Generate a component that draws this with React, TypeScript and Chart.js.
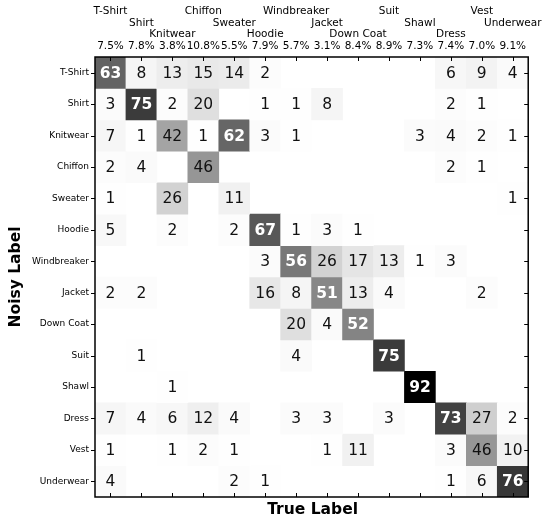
import React, { useEffect, useRef } from "react";
import { Chart, registerables } from "chart.js";

Chart.register(...registerables);

const categories = [
  "T-Shirt", "Shirt", "Knitwear", "Chiffon", "Sweater", "Hoodie", "Windbreaker",
  "Jacket", "Down Coat", "Suit", "Shawl", "Dress", "Vest", "Underwear",
];

const percentages = [
  "7.5%", "7.8%", "3.8%", "10.8%", "5.5%", "7.9%", "5.7%",
  "3.1%", "8.4%", "8.9%", "7.3%", "7.4%", "7.0%", "9.1%",
];

const rowTShirt = [63, 8, 13, 15, 14, 2, 0, 0, 0, 0, 0, 6, 9, 4];
const rowShirt = [3, 75, 2, 20, 0, 1, 1, 8, 0, 0, 0, 2, 1, 0];
const rowKnitwear = [7, 1, 42, 1, 62, 3, 1, 0, 0, 0, 3, 4, 2, 1];
const rowChiffon = [2, 4, 0, 46, 0, 0, 0, 0, 0, 0, 0, 2, 1, 0];
const rowSweater = [1, 0, 26, 0, 11, 0, 0, 0, 0, 0, 0, 0, 0, 1];
const rowHoodie = [5, 0, 2, 0, 2, 67, 1, 3, 1, 0, 0, 0, 0, 0];
const rowWindbreaker = [0, 0, 0, 0, 0, 3, 56, 26, 17, 13, 1, 3, 0, 0];
const rowJacket = [2, 2, 0, 0, 0, 16, 8, 51, 13, 4, 0, 0, 2, 0];
const rowDownCoat = [0, 0, 0, 0, 0, 0, 20, 4, 52, 0, 0, 0, 0, 0];
const rowSuit = [0, 1, 0, 0, 0, 0, 4, 0, 0, 75, 0, 0, 0, 0];
const rowShawl = [0, 0, 1, 0, 0, 0, 0, 0, 0, 0, 92, 0, 0, 0];
const rowDress = [7, 4, 6, 12, 4, 0, 3, 3, 0, 3, 0, 73, 27, 2];
const rowVest = [1, 0, 1, 2, 1, 0, 0, 1, 11, 0, 0, 3, 46, 10];
const rowUnderwear = [4, 0, 0, 0, 2, 1, 0, 0, 0, 0, 0, 1, 6, 76];

const matrix = [
  rowTShirt, rowShirt, rowKnitwear, rowChiffon, rowSweater, rowHoodie, rowWindbreaker,
  rowJacket, rowDownCoat, rowSuit, rowShawl, rowDress, rowVest, rowUnderwear,
];

const GREYS = [255, 240, 217, 189, 150, 115, 82, 37, 0];
const maxVal = Math.max(...matrix.map((r) => Math.max(...r)));

function greyColor(v: number): string {
  const t = Math.max(0, Math.min(1, v / maxVal));
  const p = t * 8;
  const i = Math.min(7, Math.floor(p));
  const f = p - i;
  const g = Math.round(GREYS[i] + (GREYS[i + 1] - GREYS[i]) * f);
  return `rgb(${g},${g},${g})`;
}

const FONT = "'DejaVu Sans', 'Liberation Sans', sans-serif";

const decorPlugin = {
  id: "decor",
  afterDatasetsDraw(chart: any) {
    const { ctx, chartArea, scales } = chart;
    const xs = scales.x;
    const ys = scales.y;
    ctx.save();
    ctx.textAlign = "center";
    ctx.textBaseline = "middle";
    matrix.forEach((row, r) => {
      row.forEach((v, c) => {
        if (!v) return;
        const px = xs.getPixelForValue(c);
        const py = ys.getPixelForValue(r + 0.5);
        const dark = v > maxVal / 2;
        ctx.font = `${dark ? "bold " : ""}15.5px ${FONT}`;
        ctx.fillStyle = dark ? "#ffffff" : "#111111";
        ctx.fillText(String(v), px, py + 1);
      });
    });
    ctx.strokeStyle = "#000";
    ctx.lineWidth = 1;
    categories.forEach((_, i) => {
      const px = Math.round(xs.getPixelForValue(i)) + 0.5;
      const py = Math.round(ys.getPixelForValue(i + 0.5)) + 0.5;
      ctx.beginPath();
      ctx.moveTo(px, chartArea.top);
      ctx.lineTo(px, chartArea.top + 4);
      ctx.moveTo(px, chartArea.bottom);
      ctx.lineTo(px, chartArea.bottom - 4);
      ctx.moveTo(chartArea.left, py);
      ctx.lineTo(chartArea.left - 4, py);
      ctx.moveTo(chartArea.right, py);
      ctx.lineTo(chartArea.right - 4, py);
      ctx.stroke();
    });
    ctx.lineWidth = 1.5;
    ctx.strokeRect(
      chartArea.left,
      chartArea.top,
      chartArea.right - chartArea.left,
      chartArea.bottom - chartArea.top
    );
    ctx.fillStyle = "#000";
    ctx.font = `bold 15.5px ${FONT}`;
    ctx.textAlign = "center";
    ctx.textBaseline = "middle";
    ctx.fillText("True Label", (chartArea.left + chartArea.right) / 2 + 1, 510);
    ctx.translate(16, (chartArea.top + chartArea.bottom) / 2);
    ctx.rotate(-Math.PI / 2);
    ctx.fillText("Noisy Label", 0, 0);
    ctx.restore();
  },
};

export default function App() {
  const ref = useRef<HTMLCanvasElement | null>(null);

  useEffect(() => {
    if (!ref.current) return;
    const datasets = matrix.map((row, r) => ({
      label: categories[r],
      data: row.map((v) => (v ? [r, r + 1] : null)),
      backgroundColor: row.map((v) => greyColor(v)),
      borderWidth: 0,
      barPercentage: 1,
      categoryPercentage: 1,
      grouped: false,
    }));
    const chart = new Chart(ref.current, {
      type: "bar",
      data: { labels: categories, datasets: datasets as any },
      options: {
        animation: false,
        responsive: false,
        maintainAspectRatio: false,
        layout: { padding: { left: 0, top: 0, right: 13, bottom: 23 } },
        plugins: { legend: { display: false }, tooltip: { enabled: false } },
        scales: {
          x: {
            type: "category",
            position: "top",
            offset: true,
            grid: { display: false, drawTicks: false },
            border: { display: false },
            afterFit: (s: any) => {
              s.height = 57;
            },
            ticks: {
              autoSkip: false,
              maxRotation: 0,
              minRotation: 0,
              padding: 5,
              color: "#000",
              font: { family: FONT, size: 10.5, lineHeight: 1.11 },
              callback: (_v: any, idx: number) => {
                const lines = ["", "", ""];
                lines[idx % 3] = categories[idx];
                lines.push(percentages[idx]);
                return lines;
              },
            },
          },
          y: {
            type: "linear",
            position: "left",
            min: 0,
            max: 14,
            reverse: true,
            grid: { display: false, drawTicks: false },
            border: { display: false },
            afterFit: (s: any) => {
              s.width = 95;
            },
            afterBuildTicks: (s: any) => {
              s.ticks = categories.map((_, i) => ({ value: i + 0.5 }));
            },
            ticks: {
              autoSkip: false,
              padding: 6,
              color: "#000",
              font: { family: FONT, size: 9 },
              callback: (_v: any, idx: number) => categories[idx],
            },
          },
        },
      },
      plugins: [decorPlugin],
    });
    return () => chart.destroy();
  }, []);

  return (
    <div style={{ position: "absolute", left: 0, top: 0, width: 547, height: 520, background: "#fff" }}>
      <canvas ref={ref} width={547} height={520} style={{ width: 547, height: 520 }} />
    </div>
  );
}
